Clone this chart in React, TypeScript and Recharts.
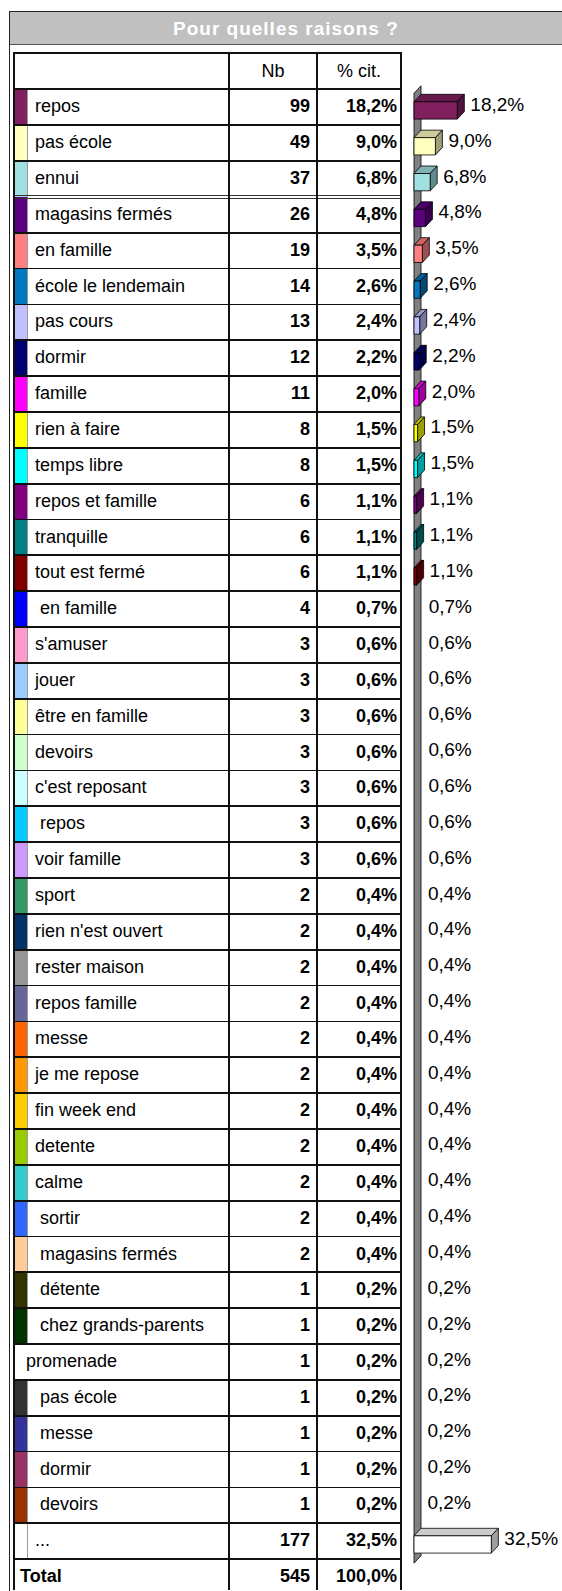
import React from "react";
import { BarChart, Bar, XAxis, YAxis, LabelList, Customized } from "recharts";

// reasons, counts and share of citations, in table order
const labels = [
  "repos", "pas école", "ennui", "magasins fermés", "en famille", "école le lendemain",
  "pas cours", "dormir", "famille", "rien à faire", "temps libre", "repos et famille",
  "tranquille", "tout est fermé", " en famille", "s'amuser", "jouer", "être en famille",
  "devoirs", "c'est reposant", " repos", "voir famille", "sport", "rien n'est ouvert",
  "rester maison", "repos famille", "messe", "je me repose", "fin week end", "detente",
  "calme", " sortir", " magasins fermés", " détente", " chez grands-parents", "promenade",
  " pas école", " messe", " dormir", " devoirs", "...",
];
const counts = [
  99, 49, 37, 26, 19, 14, 13, 12, 11, 8, 8, 6, 6, 6, 4, 3, 3, 3, 3, 3, 3,
  3, 2, 2, 2, 2, 2, 2, 2, 2, 2, 2, 2, 1, 1, 1, 1, 1, 1, 1, 177,
];
const shares = [
  18.2, 9.0, 6.8, 4.8, 3.5, 2.6, 2.4, 2.2, 2.0, 1.5, 1.5, 1.1, 1.1, 1.1, 0.7, 0.6, 0.6,
  0.6, 0.6, 0.6, 0.6, 0.6, 0.4, 0.4, 0.4, 0.4, 0.4, 0.4, 0.4, 0.4, 0.4, 0.4, 0.4, 0.2,
  0.2, 0.2, 0.2, 0.2, 0.2, 0.2, 32.5,
];
const colors: (string | null)[] = [
  "#80205f", "#ffffc0", "#a0e0e0", "#5c0080", "#ff8080", "#0078c0", "#c0c0ff", "#000070",
  "#ff00ff", "#ffff00", "#00ffff", "#800080", "#008080", "#800000", "#0000ff", "#ff99cc",
  "#99ccff", "#ffff99", "#ccffcc", "#ccffff", "#00ccff", "#cc99ff", "#339966", "#003366",
  "#969696", "#666699", "#ff6600", "#ff9900", "#ffcc00", "#99cc00", "#33cccc", "#3366ff",
  "#ffcc99", "#333300", "#003300", null, "#333333", "#333399", "#993366", "#993300", "#ffffff",
];
const totalCount = 545;
const totalShare = 100.0;
const title = "Pour quelles raisons ?";
const headers = ["Nb", "% cit."];

const rows = labels.map((label, i) => ({
  key: `r${i}`,
  label,
  nb: counts[i],
  pct: shares[i],
  color: colors[i],
}));

// layout
const W = 562;
const H = 1591;
const FONT = "'Liberation Sans', Arial, sans-serif";
const HEAD_TOP = 52.7;
const BODY_TOP = 89.3;
const ROW_H = 35.85;
const BODY_BOTTOM = BODY_TOP + rows.length * ROW_H;
const COL = { left: 14, swatch: 28, nb: 229, pct: 317, right: 401 };
const PLOT_LEFT = 414;
const PX_PER_PCT = 2.38;
const X_MAX = 40;
const DX = 7;
const DY = 7.5;
const LINE = 1.8;

const fmtPct = (v: number) => v.toFixed(1).replace(".", ",") + "%";

function shade(hex: string, k: number) {
  const n = parseInt(hex.slice(1), 16);
  const r = Math.round(((n >> 16) & 255) * k);
  const g = Math.round(((n >> 8) & 255) * k);
  const b = Math.round((n & 255) * k);
  return `rgb(${r},${g},${b})`;
}

// 3D box like the old Excel bars; tiny ones are not drawn
function Box3D(props: any) {
  const { x, y, width, payload } = props;
  if (!payload || payload.pct < 1) return null;
  const c = payload.color || "#ffffff";
  const fy = y + 3.5;
  const h = 17.3;
  const w = width;
  const stroke = { stroke: "#000", strokeWidth: 0.8, strokeLinejoin: "round" as const };
  return (
    <g>
      <polygon
        points={`${x},${fy} ${x + w},${fy} ${x + w + DX},${fy - DY} ${x + DX},${fy - DY}`}
        fill={shade(c, 0.8)}
        {...stroke}
      />
      <polygon
        points={`${x + w},${fy} ${x + w + DX},${fy - DY} ${x + w + DX},${fy + h - DY} ${x + w},${fy + h}`}
        fill={shade(c, 0.62)}
        {...stroke}
      />
      <rect x={x} y={fy} width={w} height={h} fill={c} {...stroke} />
    </g>
  );
}

function BarLabel(props: any) {
  const { x, y, width, height, value } = props;
  return (
    <text
      x={x + width + DX + 6}
      y={y + height / 2 - 2.5}
      dominantBaseline="central"
      fontFamily={FONT}
      fontSize={19}
      fill="#000"
    >
      {fmtPct(value)}
    </text>
  );
}

function Wall() {
  const t = BODY_TOP + 4;
  const b = BODY_BOTTOM + 4;
  return (
    <polygon
      points={`${PLOT_LEFT},${t} ${PLOT_LEFT + DX},${t - DY} ${PLOT_LEFT + DX},${b - DY} ${PLOT_LEFT},${b}`}
      fill="#808080"
      stroke="#000"
      strokeWidth={0.8}
    />
  );
}

const abs = (s: React.CSSProperties): React.CSSProperties => ({ position: "absolute", ...s });

function Table() {
  const cells: React.ReactNode[] = [];
  const text = { fontFamily: FONT, fontSize: 18, color: "#000", whiteSpace: "pre" as const };

  // header
  cells.push(
    <div key="h1" style={abs({ ...text, left: COL.nb, width: COL.pct - COL.nb, top: HEAD_TOP, height: BODY_TOP - HEAD_TOP, lineHeight: `${BODY_TOP - HEAD_TOP}px`, textAlign: "center" })}>{headers[0]}</div>,
    <div key="h2" style={abs({ ...text, left: COL.pct, width: COL.right - COL.pct, top: HEAD_TOP, height: BODY_TOP - HEAD_TOP, lineHeight: `${BODY_TOP - HEAD_TOP}px`, textAlign: "center" })}>{headers[1]}</div>
  );

  rows.forEach((r, i) => {
    const top = BODY_TOP + i * ROW_H;
    const lh = `${ROW_H}px`;
    if (r.color) {
      cells.push(
        <div key={`s${i}`} style={abs({ left: COL.left, top, width: COL.swatch - COL.left, height: ROW_H, background: r.color, borderRight: "1px solid #9a9a9a", boxSizing: "border-box" })} />
      );
    }
    cells.push(
      <div key={`l${i}`} style={abs({ ...text, left: r.color ? COL.swatch + 7 : COL.left + 12, top, height: ROW_H, lineHeight: lh })}>{r.label}</div>,
      <div key={`n${i}`} style={abs({ ...text, fontWeight: "bold", left: COL.nb, width: COL.pct - COL.nb - 7, top, height: ROW_H, lineHeight: lh, textAlign: "right" })}>{r.nb}</div>,
      <div key={`p${i}`} style={abs({ ...text, fontWeight: "bold", left: COL.pct, width: COL.right - COL.pct - 4, top, height: ROW_H, lineHeight: lh, textAlign: "right" })}>{fmtPct(r.pct)}</div>
    );
  });

  // total row
  const tt = BODY_BOTTOM;
  const tlh = `${ROW_H}px`;
  cells.push(
    <div key="t0" style={abs({ ...text, fontWeight: "bold", left: COL.left + 6, top: tt, height: ROW_H, lineHeight: tlh })}>Total</div>,
    <div key="t1" style={abs({ ...text, fontWeight: "bold", left: COL.nb, width: COL.pct - COL.nb - 7, top: tt, height: ROW_H, lineHeight: tlh, textAlign: "right" })}>{totalCount}</div>,
    <div key="t2" style={abs({ ...text, fontWeight: "bold", left: COL.pct, width: COL.right - COL.pct - 4, top: tt, height: ROW_H, lineHeight: tlh, textAlign: "right" })}>{fmtPct(totalShare)}</div>
  );

  // grid lines
  const hl = [HEAD_TOP, BODY_TOP];
  for (let k = 1; k <= rows.length + 1; k++) hl.push(BODY_TOP + k * ROW_H);
  hl.forEach((y, k) => {
    const dbl = k === 4;
    cells.push(
      <div key={`hl${k}`} style={abs({ left: COL.left - LINE / 2, width: COL.right - COL.left + LINE, top: dbl ? y - 2 : y - LINE / 2, height: dbl ? 4 : LINE, background: dbl ? undefined : "#111", borderTop: dbl ? "4px double #333" : undefined, boxSizing: "border-box" })} />
    );
  });
  [COL.left, COL.nb, COL.pct, COL.right].forEach((x, k) => {
    cells.push(<div key={`vl${k}`} style={abs({ left: x - LINE / 2, top: HEAD_TOP - LINE / 2, width: LINE, height: H - HEAD_TOP, background: "#111" })} />);
  });

  return <>{cells}</>;
}

export default function App() {
  return (
    <div style={abs({ left: 0, top: 0, width: W, height: H, overflow: "hidden", background: "#fff" })}>
      {/* outer frame + title bar */}
      <div style={abs({ left: 9, top: 10.5, width: 560, height: H, border: "1.5px solid #222", boxSizing: "border-box" })} />
      <div
        style={abs({
          left: 10, top: 11.5, width: 560, height: 33.5, background: "#c0c0c0", borderBottom: "1px solid #555",
          color: "#fff", fontFamily: FONT, fontWeight: "bold", fontSize: 19, letterSpacing: 1,
          textAlign: "left", paddingLeft: 163, lineHeight: "33px", boxSizing: "border-box",
        })}
      >
        {title}
      </div>
      <Table />
      <div style={abs({ left: 0, top: 0 })}>
        <BarChart
          width={W}
          height={H}
          data={rows}
          layout="vertical"
          barCategoryGap={0}
          margin={{ top: BODY_TOP, bottom: H - BODY_BOTTOM, left: PLOT_LEFT, right: W - PLOT_LEFT - X_MAX * PX_PER_PCT }}
        >
          <XAxis type="number" domain={[0, X_MAX]} hide />
          <YAxis type="category" dataKey="key" hide />
          <Customized component={Wall} />
          <Bar dataKey="pct" barSize={17} shape={Box3D} isAnimationActive={false}>
            <LabelList dataKey="pct" content={BarLabel} />
          </Bar>
        </BarChart>
      </div>
    </div>
  );
}
